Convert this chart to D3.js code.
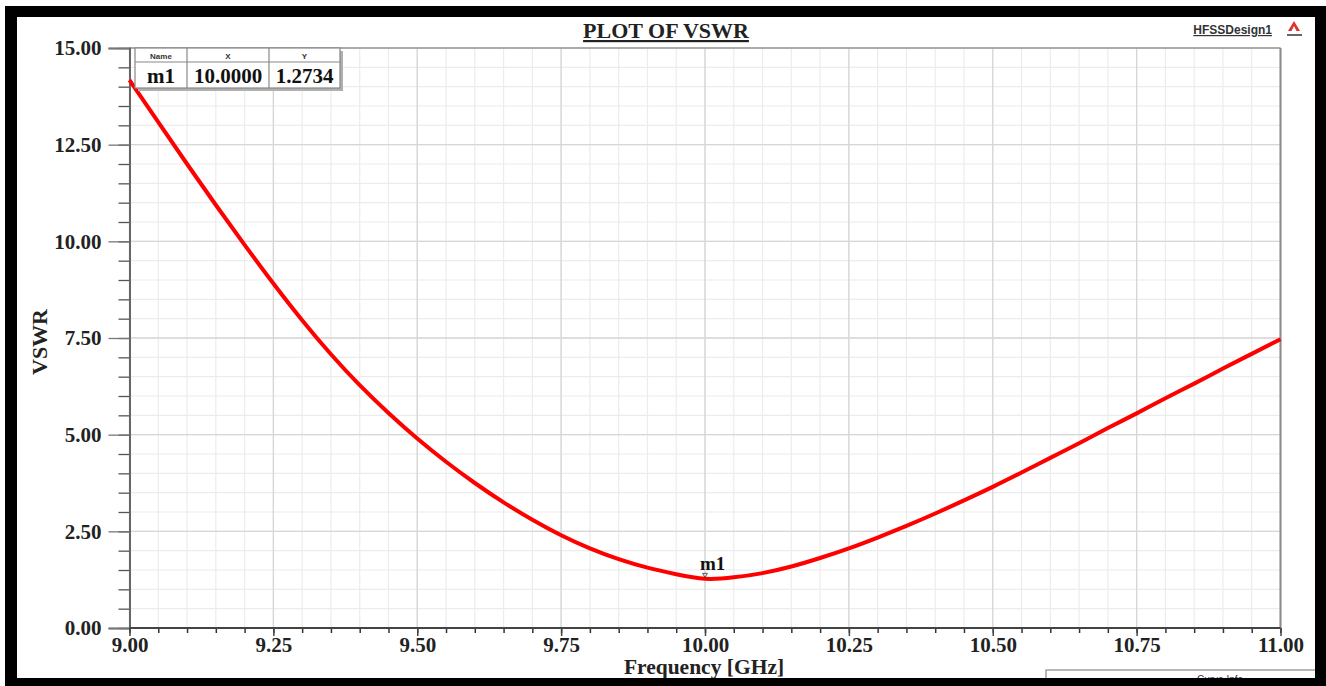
<!DOCTYPE html>
<html><head><meta charset="utf-8">
<script src="https://cdn.jsdelivr.net/npm/d3@7/dist/d3.min.js"></script>
<style>html,body{margin:0;padding:0;background:#fff;}svg{display:block;}</style>
</head><body>
<svg id="c" width="1326" height="686"></svg>
<script>
// ---- data ----
const freq = [9.00,9.05,9.10,9.15,9.20,9.25,9.30,9.35,9.40,9.45,9.50,9.55,9.60,9.65,9.70,9.75,9.80,9.85,9.90,9.95,
              10.00,10.05,10.10,10.15,10.20,10.25,10.30,10.35,10.40,10.45,10.50,10.55,10.60,10.65,10.70,10.75,10.80,10.85,10.90,10.95,11.00];
const vswr = [14.17,13.08,12.00,10.94,9.91,8.91,7.96,7.08,6.28,5.56,4.90,4.30,3.75,3.25,2.80,2.40,2.06,1.78,1.56,1.39,
              1.2734,1.31,1.42,1.59,1.81,2.06,2.34,2.64,2.96,3.30,3.65,4.02,4.40,4.78,5.17,5.55,5.94,6.32,6.71,7.09,7.47];
const xTickLabels = [9.00,9.25,9.50,9.75,10.00,10.25,10.50,10.75,11.00];
const yTickLabels = [0,2.5,5,7.5,10,12.5,15];
const markerName = "m1", markerX = 10.0, markerY = 1.2734;
const titleText = "PLOT OF VSWR", xTitle = "Frequency [GHz]", yTitle = "VSWR";

// ---- drawing ----
const svg = d3.select("#c");
const L = 129.5, R = 1280.5, T = 48, B = 628;
const x = d3.scaleLinear().domain([9, 11]).range([L, R]);
const y = d3.scaleLinear().domain([0, 15]).range([B, T]);
const serif = "'Liberation Serif','Times New Roman',serif";
const sans = "'Liberation Sans',Arial,sans-serif";

svg.append("rect").attr("width",1326).attr("height",686).attr("fill","#fff");

const xMinor = d3.range(0, 41).map(i => 9 + i * 0.05);
const yMinor = d3.range(0, 31).map(i => i * 0.5);

const g = svg.append("g");
g.selectAll(".vmin").data(xMinor).join("line")
  .attr("x1", d => x(d)).attr("x2", d => x(d)).attr("y1", T).attr("y2", B)
  .attr("stroke", "#ececec").attr("stroke-width", 1.2);
g.selectAll(".hmin").data(yMinor).join("line")
  .attr("y1", d => y(d)).attr("y2", d => y(d)).attr("x1", L).attr("x2", R)
  .attr("stroke", "#ececec").attr("stroke-width", 1.2);
g.selectAll(".vmaj").data(xTickLabels).join("line")
  .attr("x1", d => x(d)).attr("x2", d => x(d)).attr("y1", T).attr("y2", B)
  .attr("stroke", "#d6d6d6").attr("stroke-width", 1.3);
g.selectAll(".hmaj").data(yTickLabels).join("line")
  .attr("y1", d => y(d)).attr("y2", d => y(d)).attr("x1", L).attr("x2", R)
  .attr("stroke", "#d6d6d6").attr("stroke-width", 1.3);

svg.append("line").attr("x1", L).attr("x2", R).attr("y1", T).attr("y2", T).attr("stroke", "#9a9a9a").attr("stroke-width", 1.5);
svg.append("line").attr("x1", R).attr("x2", R).attr("y1", T).attr("y2", B).attr("stroke", "#8a8a8a").attr("stroke-width", 2);

const axY = svg.append("g").attr("transform", `translate(${L},0)`)
  .call(d3.axisLeft(y).tickValues(yMinor).tickSize(11).tickFormat(""));
axY.selectAll(".tick line").attr("stroke", "#555").attr("stroke-width", 1.3);
axY.select(".domain").remove();
const axY2 = svg.append("g").attr("transform", `translate(${L},0)`)
  .call(d3.axisLeft(y).tickValues(yTickLabels).tickSize(21).tickPadding(7).tickFormat(d3.format(".2f")));
axY2.selectAll(".tick line").attr("stroke", "#777").attr("stroke-width", 1.3);
axY2.select(".domain").attr("stroke", "#666").attr("stroke-width", 2);
axY2.selectAll("text").attr("font-family", serif).attr("font-weight", "bold").attr("font-size", 21).attr("fill", "#222");

const axX = svg.append("g").attr("transform", `translate(0,${B})`)
  .call(d3.axisBottom(x).tickValues(xMinor).tickSize(5).tickFormat(""));
axX.selectAll(".tick line").attr("stroke", "#333").attr("stroke-width", 1.5);
axX.select(".domain").remove();
const axX2 = svg.append("g").attr("transform", `translate(0,${B})`)
  .call(d3.axisBottom(x).tickValues(xTickLabels).tickSize(8).tickPadding(1).tickFormat(d3.format(".2f")));
axX2.selectAll(".tick line").attr("stroke", "#444").attr("stroke-width", 1.5);
axX2.select(".domain").attr("stroke", "#444").attr("stroke-width", 2).attr("d", `M${L},0H${R}`);
axX2.selectAll("text").attr("font-family", serif).attr("font-weight", "bold").attr("font-size", 21).attr("fill", "#222");

// curve
const data = freq.map((f, i) => ({f, v: vswr[i]}));
svg.append("path").datum(data)
  .attr("fill", "none").attr("stroke", "#ff0000").attr("stroke-width", 4).attr("stroke-linejoin", "round")
  .attr("d", d3.line().x(d => x(d.f)).y(d => y(d.v)).curve(d3.curveNatural));

// marker
svg.append("path")
  .attr("d", d3.symbol(d3.symbolTriangle, 10)()).attr("transform", `translate(${x(markerX)},${y(markerY)-4}) rotate(180)`)
  .attr("fill", "none").attr("stroke", "#333").attr("stroke-width", 0.8);
svg.append("text").attr("x", x(markerX) - 5).attr("y", y(markerY) - 9)
  .attr("font-family", serif).attr("font-weight", "bold").attr("font-size", 19).attr("fill", "#111").text(markerName);

// marker table
const tb = svg.append("g");
const tx0 = 135, tx1 = 187, tx2 = 269, tx3 = 340, ty0 = 48, ty1 = 62, ty2 = 88;
tb.append("rect").attr("x", tx0 + 3).attr("y", ty0 + 3).attr("width", tx3 - tx0).attr("height", ty2 - ty0).attr("fill", "#b0b0b0");
tb.append("rect").attr("x", tx0).attr("y", ty0).attr("width", tx3 - tx0).attr("height", ty2 - ty0).attr("fill", "#fff").attr("stroke", "#888").attr("stroke-width", 1.2);
tb.append("line").attr("x1", tx0).attr("x2", tx3).attr("y1", ty1).attr("y2", ty1).attr("stroke", "#888").attr("stroke-width", 1.2);
[tx1, tx2].forEach(v => tb.append("line").attr("x1", v).attr("x2", v).attr("y1", ty0).attr("y2", ty2).attr("stroke", "#888").attr("stroke-width", 1.2));
const hdr = ["Name", "X", "Y"], cols = [[tx0, tx1], [tx1, tx2], [tx2, tx3]];
const vals = [markerName, markerX.toFixed(4), markerY.toFixed(4)];
cols.forEach((c, i) => {
  tb.append("text").attr("x", (c[0] + c[1]) / 2).attr("y", 59).attr("text-anchor", "middle")
    .attr("font-family", sans).attr("font-weight", "bold").attr("font-size", 8).attr("fill", "#333").text(hdr[i]);
  tb.append("text").attr("x", (c[0] + c[1]) / 2).attr("y", 83).attr("text-anchor", "middle")
    .attr("font-family", serif).attr("font-weight", "bold").attr("font-size", 21).attr("fill", "#111").text(vals[i]);
});

// titles
svg.append("text").attr("x", 666).attr("y", 38).attr("text-anchor", "middle")
  .attr("font-family", serif).attr("font-weight", "bold").attr("font-size", 22).attr("fill", "#222")
  .attr("text-decoration", "underline").text(titleText);
svg.append("text").attr("x", 704).attr("y", 674).attr("text-anchor", "middle")
  .attr("font-family", serif).attr("font-weight", "bold").attr("font-size", 21.5).attr("fill", "#222").text(xTitle);
svg.append("text").attr("transform", "translate(47,342) rotate(-90)").attr("text-anchor", "middle")
  .attr("font-family", serif).attr("font-weight", "bold").attr("font-size", 22).attr("fill", "#222").text(yTitle);

// design label + logo
svg.append("text").attr("x", 1272).attr("y", 34).attr("text-anchor", "end")
  .attr("font-family", sans).attr("font-weight", "bold").attr("font-size", 12).attr("fill", "#333")
  .attr("text-decoration", "underline").text("HFSSDesign1");
svg.append("path").attr("d", "M1294,21 L1300,31 L1288,31 Z").attr("fill", "#e03030");
svg.append("path").attr("d", "M1294,26 L1296.5,31 L1291.5,31 Z").attr("fill", "#fff");
svg.append("rect").attr("x", 1287).attr("y", 34).attr("width", 15).attr("height", 2).attr("fill", "#666");

// curve info box (cut off)
svg.append("rect").attr("x", 1046).attr("y", 670).attr("width", 290).attr("height", 30).attr("fill", "#fff").attr("stroke", "#888").attr("stroke-width", 1.2);
svg.append("text").attr("x", 1220).attr("y", 683).attr("text-anchor", "middle")
  .attr("font-family", sans).attr("font-size", 10).attr("fill", "#333").text("Curve Info");

// black frame
svg.append("path").attr("fill-rule", "evenodd").attr("fill", "#000")
  .attr("d", "M5,6H1326V686H5Z M17,17V678H1315V17Z");
</script>
</body></html>
